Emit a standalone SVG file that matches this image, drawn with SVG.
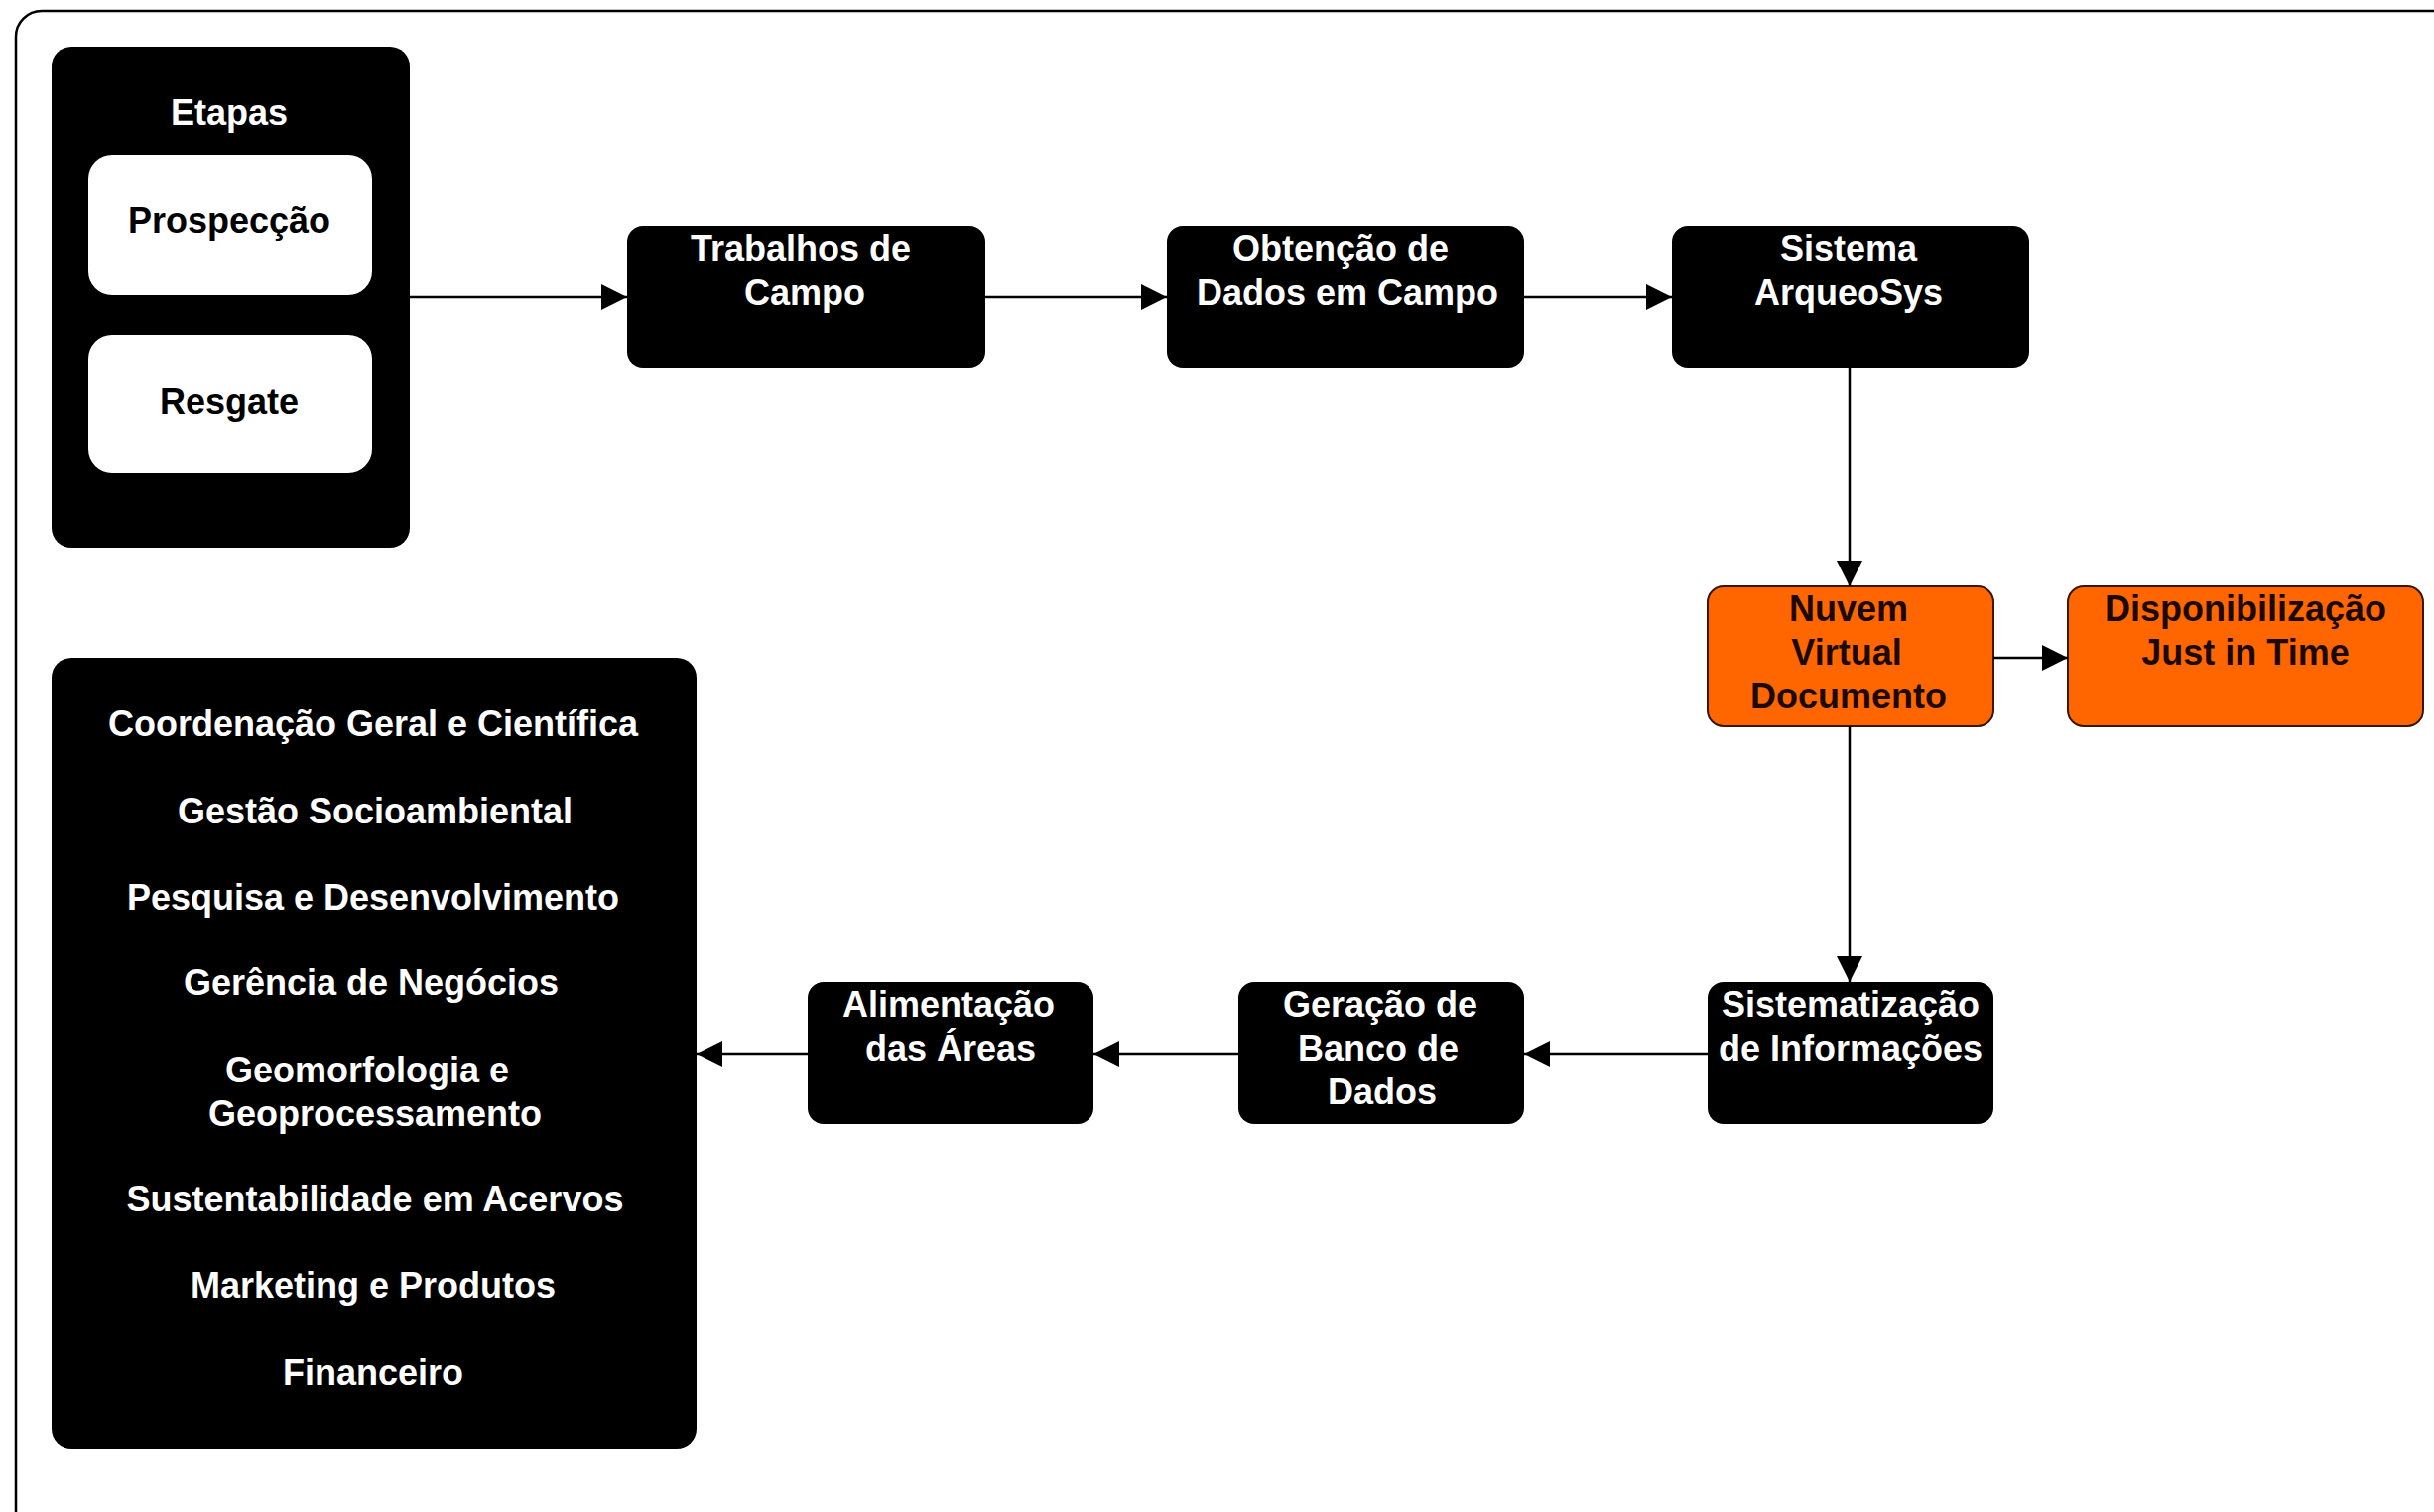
<svg xmlns="http://www.w3.org/2000/svg" width="2453" height="1524" viewBox="0 0 2453 1524">
  <defs>
    <marker id="arrow" viewBox="0 0 26 26" refX="26" refY="13" markerWidth="26" markerHeight="26" markerUnits="userSpaceOnUse" orient="auto">
      <path d="M0,0 L26,13 L0,26 Z" fill="#000"/>
    </marker>
  </defs>
  <style>
    text { font-family: "Liberation Sans", Arial, sans-serif; font-weight: bold; font-size: 36px; text-anchor: middle; }
    .dark { fill: #000; }
    .light { fill: #fff; }
    .node { fill: #000; }
    .card { fill: #fff; }
    .hot { fill: #ff6600; stroke: #3a1500; stroke-width: 2; }
    .hot-text { fill: #1a0a00; }
    .edge { fill: none; stroke: #000; stroke-width: 2.5; marker-end: url(#arrow); }
  </style>

  <rect width="2453" height="1524" fill="#fff"/>
  <!-- outer frame -->
  <rect x="16" y="11" width="2520" height="1540" rx="26" fill="none" stroke="#000" stroke-width="2.5"/>

  <g id="etapas">
    <rect class="node" x="52" y="47" width="361" height="505" rx="20"/>
    <text class="light" x="231" y="126">Etapas</text>
    <g id="prospeccao">
      <rect class="card" x="89" y="156" width="286" height="141" rx="24"/>
      <text class="dark" x="231" y="235">Prospecção</text>
    </g>
    <g id="resgate">
      <rect class="card" x="89" y="338" width="286" height="139" rx="24"/>
      <text class="dark" x="231" y="417">Resgate</text>
    </g>
  </g>

  <g id="trabalhos-campo">
    <rect class="node" x="632" y="228" width="361" height="143" rx="16"/>
    <text class="light" x="807" y="263">Trabalhos de</text>
    <text class="light" x="811" y="307">Campo</text>
  </g>

  <g id="obtencao-dados">
    <rect class="node" x="1176" y="228" width="360" height="143" rx="16"/>
    <text class="light" x="1351" y="263">Obtenção de</text>
    <text class="light" x="1358" y="307">Dados em Campo</text>
  </g>

  <g id="sistema-arqueosys">
    <rect class="node" x="1685" y="228" width="360" height="143" rx="16"/>
    <text class="light" x="1863" y="263">Sistema</text>
    <text class="light" x="1863" y="307">ArqueoSys</text>
  </g>

  <g id="nuvem-virtual">
    <rect class="hot" x="1721" y="591" width="288" height="141" rx="16"/>
    <text class="hot-text" x="1863" y="626">Nuvem</text>
    <text class="hot-text" x="1861" y="670">Virtual</text>
    <text class="hot-text" x="1863" y="714">Documento</text>
  </g>

  <g id="disponibilizacao">
    <rect class="hot" x="2084" y="591" width="358" height="141" rx="16"/>
    <text class="hot-text" x="2263" y="626">Disponibilização</text>
    <text class="hot-text" x="2263" y="670">Just in Time</text>
  </g>

  <g id="sistematizacao">
    <rect class="node" x="1721" y="990" width="288" height="143" rx="16"/>
    <text class="light" x="1865" y="1025">Sistematização</text>
    <text class="light" x="1865" y="1069">de Informações</text>
  </g>

  <g id="geracao-banco">
    <rect class="node" x="1248" y="990" width="288" height="143" rx="16"/>
    <text class="light" x="1391" y="1025">Geração de</text>
    <text class="light" x="1389" y="1069">Banco de</text>
    <text class="light" x="1393" y="1113">Dados</text>
  </g>

  <g id="alimentacao-areas">
    <rect class="node" x="814" y="990" width="288" height="143" rx="16"/>
    <text class="light" x="956" y="1025">Alimentação</text>
    <text class="light" x="958" y="1069">das Áreas</text>
  </g>

  <g id="areas">
    <rect class="node" x="52" y="663" width="650" height="797" rx="20"/>
    <text class="light" x="376" y="742">Coordenação Geral e Científica</text>
    <text class="light" x="378" y="830">Gestão Socioambiental</text>
    <text class="light" x="376" y="917">Pesquisa e Desenvolvimento</text>
    <text class="light" x="374" y="1003">Gerência de Negócios</text>
    <text class="light" x="370" y="1091">Geomorfologia e</text>
    <text class="light" x="378" y="1135">Geoprocessamento</text>
    <text class="light" x="378" y="1221">Sustentabilidade em Acervos</text>
    <text class="light" x="376" y="1308">Marketing e Produtos</text>
    <text class="light" x="376" y="1396">Financeiro</text>
  </g>

  <g id="connectors">
    <line class="edge" x1="413" y1="299" x2="632" y2="299"/>
    <line class="edge" x1="993" y1="299" x2="1176" y2="299"/>
    <line class="edge" x1="1536" y1="299" x2="1685" y2="299"/>
    <line class="edge" x1="1864" y1="371" x2="1864" y2="591"/>
    <line class="edge" x1="2009" y1="663" x2="2084" y2="663"/>
    <line class="edge" x1="1864" y1="732" x2="1864" y2="990"/>
    <line class="edge" x1="1721" y1="1062" x2="1536" y2="1062"/>
    <line class="edge" x1="1248" y1="1062" x2="1102" y2="1062"/>
    <line class="edge" x1="814" y1="1062" x2="702" y2="1062"/>
  </g>
</svg>
